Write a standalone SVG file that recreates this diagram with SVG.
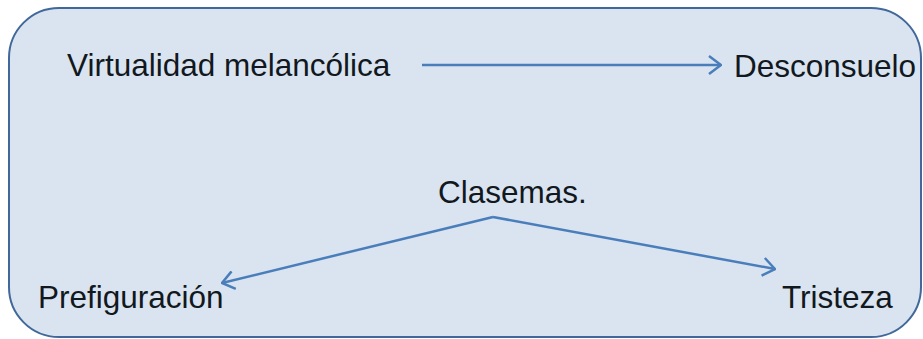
<svg xmlns="http://www.w3.org/2000/svg" width="923" height="339" viewBox="0 0 923 339">
  <style>
    .lbl { font-family: "Liberation Sans", Arial, sans-serif; font-size: 31.5px; fill: #111820; }
    .conn { fill: none; stroke: #4a7ebb; stroke-width: 2.5; }
  </style>
  <defs>
    <marker id="head" viewBox="0 0 14 20" refX="13" refY="10" markerWidth="14" markerHeight="20" markerUnits="userSpaceOnUse" orient="auto">
      <path d="M1,1 L13,10 L1,19" fill="none" stroke="#4a7ebb" stroke-width="2.5"/>
    </marker>
  </defs>
  <!-- frame -->
  <rect x="9" y="8" width="912" height="329" rx="50" ry="50" fill="#dae4f0" stroke="#41689a" stroke-width="2"/>

  <g id="connectors">
    <path class="conn" d="M422,65 L721,65" marker-end="url(#head)"/>
    <path class="conn" d="M493,217 L222,283" marker-end="url(#head)"/>
    <path class="conn" d="M493,217 L775,269" marker-end="url(#head)"/>
  </g>

  <g id="virtualidad"><text class="lbl" x="67" y="76">Virtualidad melancólica</text></g>
  <g id="desconsuelo"><text class="lbl" x="734" y="77">Desconsuelo</text></g>
  <g id="clasemas"><text class="lbl" x="438" y="203">Clasemas.</text></g>
  <g id="prefiguracion"><text class="lbl" x="38" y="308">Prefiguración</text></g>
  <g id="tristeza"><text class="lbl" x="782" y="308">Tristeza</text></g>
</svg>
